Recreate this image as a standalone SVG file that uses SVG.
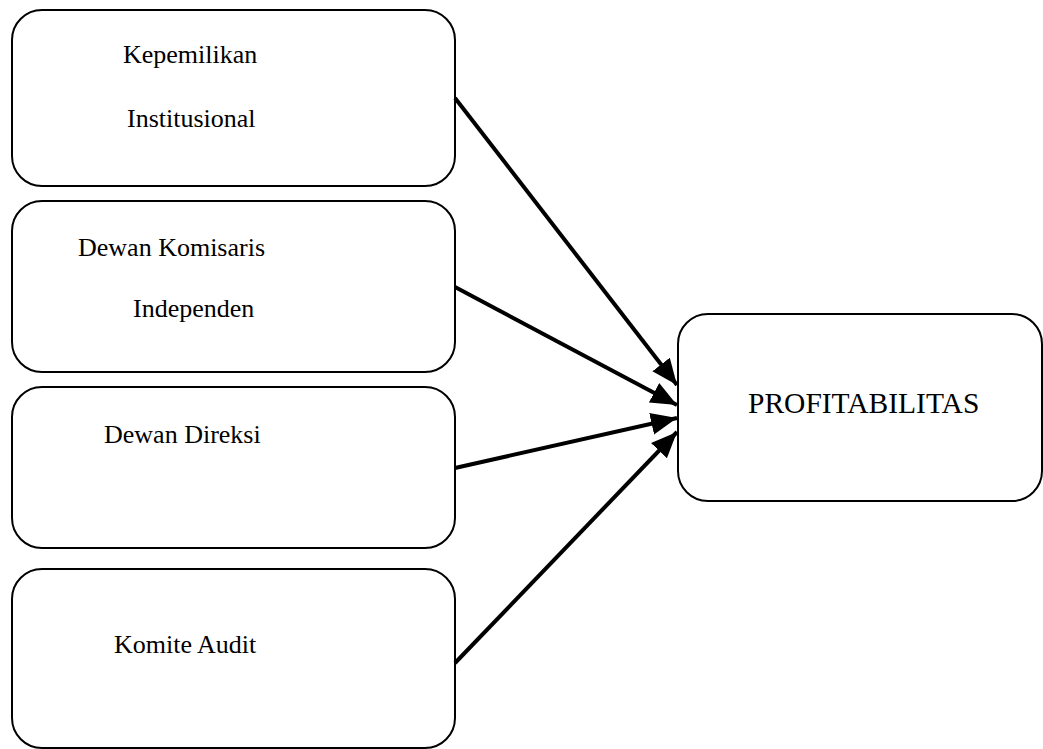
<svg xmlns="http://www.w3.org/2000/svg" width="1043" height="749" viewBox="0 0 1043 749">
<style>
.box{fill:#fff;stroke:#000;stroke-width:2}
.t{font-family:"Liberation Serif","Times New Roman",serif;font-size:26px;fill:#000}
.c{stroke:#000;stroke-width:4;fill:none;marker-end:url(#ah)}
</style>
<defs>
<marker id="ah" markerUnits="userSpaceOnUse" markerWidth="28" markerHeight="24" refX="26" refY="12" orient="auto">
<path d="M0,1 L26,12 L0,23 Z" fill="#000"/>
</marker>
</defs>
<rect width="1043" height="749" fill="#fff"/>
<g id="n1">
<rect class="box" x="12" y="10" width="443" height="176" rx="30"/>
<text class="t" x="123" y="63">Kepemilikan</text>
<text class="t" x="127" y="127">Institusional</text>
</g>
<g id="n2">
<rect class="box" x="12" y="201" width="443" height="171" rx="30"/>
<text class="t" x="78" y="256">Dewan Komisaris</text>
<text class="t" x="133" y="317">Independen</text>
</g>
<g id="n3">
<rect class="box" x="12" y="387" width="443" height="161" rx="30"/>
<text class="t" x="104" y="443">Dewan Direksi</text>
</g>
<g id="n4">
<rect class="box" x="12" y="569" width="443" height="179" rx="30"/>
<text class="t" x="114" y="653">Komite Audit</text>
</g>
<g id="n5">
<rect class="box" x="678" y="314" width="364" height="187" rx="30"/>
<text class="t" x="748" y="413" style="font-size:29.5px">PROFITABILITAS</text>
</g>
<g id="connectors">
<line class="c" x1="455" y1="98" x2="677" y2="385"/>
<line class="c" x1="455" y1="287" x2="677" y2="405"/>
<line class="c" x1="455" y1="468" x2="677" y2="418"/>
<line class="c" x1="455" y1="663" x2="677" y2="432"/>
</g>
</svg>
